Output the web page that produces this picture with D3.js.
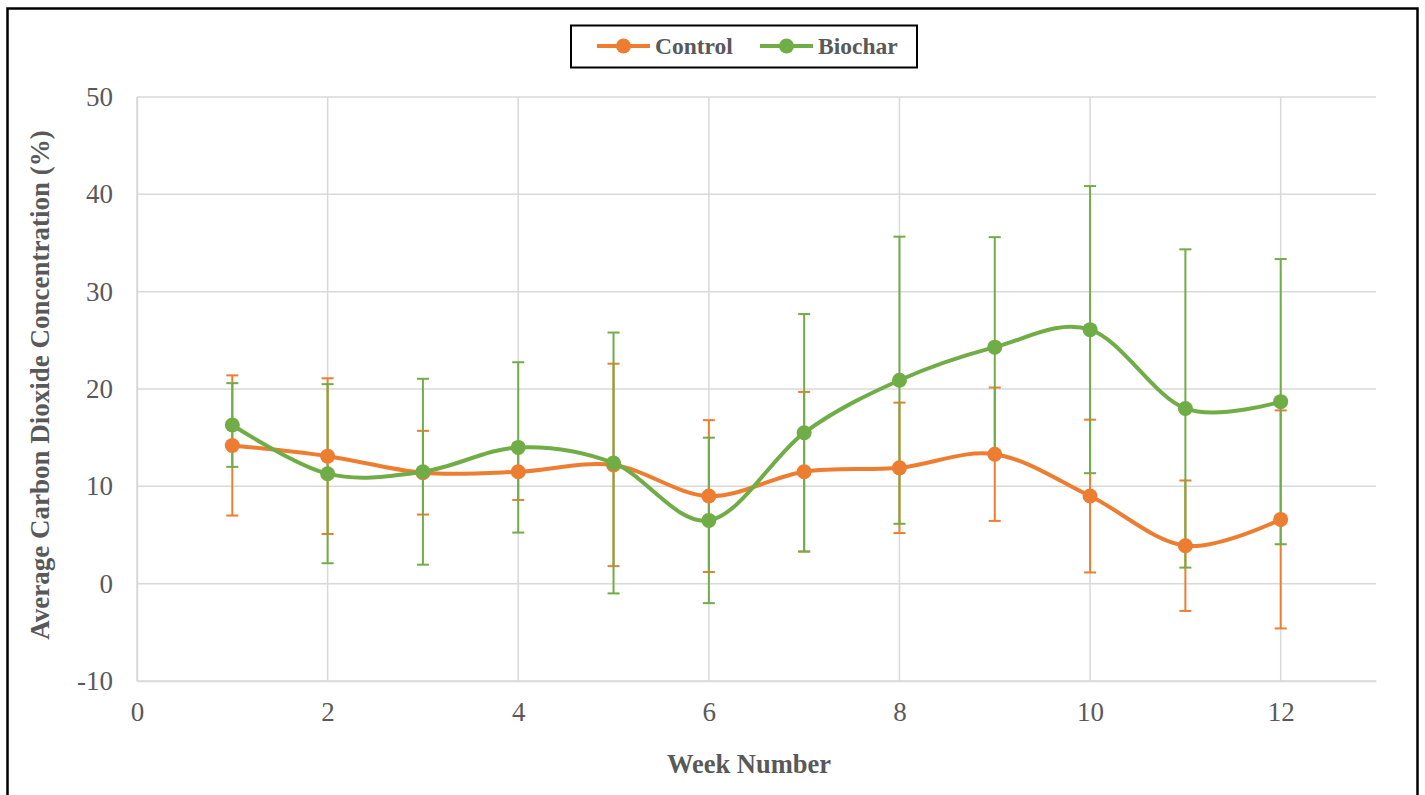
<!DOCTYPE html>
<html>
<head>
<meta charset="utf-8">
<script src="https://cdn.jsdelivr.net/npm/d3@7"></script>
<style>
  body { margin: 0; background: #fff; }
  svg { display: block; font-family: "Liberation Serif", "Times New Roman", serif; }
</style>
</head>
<body>
<div id="chart"></div>
<script>
// data
const weeks = [1, 2, 3, 4, 5, 6, 7, 8, 9, 10, 11, 12];
const controlMean = [14.2, 13.1, 11.4, 11.5, 12.2, 9.0, 11.5, 11.9, 13.3, 9.0, 3.9, 6.6];
const controlErr = [7.2, 8.0, 4.3, 2.9, 10.4, 7.8, 8.2, 6.7, 6.85, 7.85, 6.7, 11.2];
const biocharMean = [16.3, 11.3, 11.5, 14.0, 12.4, 6.5, 15.5, 20.9, 24.3, 26.1, 18.0, 18.7];
const biocharErr = [4.3, 9.2, 9.55, 8.75, 13.4, 8.5, 12.2, 14.75, 11.3, 14.75, 16.35, 14.65];
const xTicks = [0, 2, 4, 6, 8, 10, 12];
const yTicks = [-10, 0, 10, 20, 30, 40, 50];

const series = [
  { name: 'Control', color: '#ED7D31', mean: controlMean, err: controlErr },
  { name: 'Biochar', color: '#70AD47', mean: biocharMean, err: biocharErr }
];

const width = 1425, height = 795;
const margin = { top: 97, right: 49, bottom: 114, left: 137 };
const textColor = '#595959';

const svg = d3.select('#chart')
  .append('svg')
  .attr('width', width)
  .attr('height', height);

// outer chart border
svg.append('rect')
  .attr('x', 7.5).attr('y', 8.5)
  .attr('width', 1410).attr('height', 800)
  .attr('fill', 'none')
  .attr('stroke', '#000')
  .attr('stroke-width', 2.5);

const xScale = d3.scaleLinear().domain([0, 13]).range([margin.left, width - margin.right]);
const yScale = d3.scaleLinear().domain([-10, 50]).range([height - margin.bottom, margin.top]);

// gridlines
svg.append('g')
  .selectAll('line.h')
  .data(yTicks)
  .enter()
  .append('line')
  .attr('x1', xScale(0)).attr('x2', xScale(13))
  .attr('y1', d => yScale(d)).attr('y2', d => yScale(d))
  .attr('stroke', '#D9D9D9')
  .attr('stroke-width', 1.5);

svg.append('g')
  .selectAll('line.v')
  .data(xTicks)
  .enter()
  .append('line')
  .attr('x1', d => xScale(d)).attr('x2', d => xScale(d))
  .attr('y1', yScale(-10)).attr('y2', yScale(50))
  .attr('stroke', '#D9D9D9')
  .attr('stroke-width', 1.5);

// axes (labels only, lines styled like gridlines)
const xAxis = d3.axisBottom(xScale).tickValues(xTicks).tickSize(0).tickPadding(21)
  .tickFormat(d => String(d));
const yAxis = d3.axisLeft(yScale).tickValues(yTicks).tickSize(0).tickPadding(24)
  .tickFormat(d => String(d));

const gx = svg.append('g')
  .attr('transform', `translate(0,${yScale(-10)})`)
  .call(xAxis);
const gy = svg.append('g')
  .attr('transform', `translate(${xScale(0)},0)`)
  .call(yAxis);

[gx, gy].forEach(g => {
  g.select('.domain').attr('stroke', '#D9D9D9').attr('stroke-width', 1.5);
  g.selectAll('text')
    .attr('fill', textColor)
    .style('font-size', '27px')
    .style('font-family', '"Liberation Serif", "Times New Roman", serif');
});

// error bars
const capW = 6;
series.forEach(s => {
  const g = svg.append('g').attr('class', 'err-' + s.name);
  const rows = weeks.map((w, i) => ({ w, lo: s.mean[i] - s.err[i], hi: s.mean[i] + s.err[i] }));
  g.selectAll('line.stem')
    .data(rows).enter().append('line')
    .attr('x1', d => xScale(d.w)).attr('x2', d => xScale(d.w))
    .attr('y1', d => yScale(d.lo)).attr('y2', d => yScale(d.hi))
    .attr('stroke', s.color).attr('stroke-width', 2);
  ['lo', 'hi'].forEach(k => {
    g.selectAll('line.cap-' + k)
      .data(rows).enter().append('line')
      .attr('x1', d => xScale(d.w) - capW).attr('x2', d => xScale(d.w) + capW)
      .attr('y1', d => yScale(d[k])).attr('y2', d => yScale(d[k]))
      .attr('stroke', s.color).attr('stroke-width', 2);
  });
});

// smoothed lines + markers
const line = d3.line()
  .x(d => xScale(d[0]))
  .y(d => yScale(d[1]))
  .curve(d3.curveCardinal.tension(0));

series.forEach(s => {
  const pts = weeks.map((w, i) => [w, s.mean[i]]);
  svg.append('path')
    .datum(pts)
    .attr('fill', 'none')
    .attr('stroke', s.color)
    .attr('stroke-width', 4)
    .attr('d', line);
  svg.selectAll('circle.m-' + s.name)
    .data(pts).enter().append('circle')
    .attr('cx', d => xScale(d[0]))
    .attr('cy', d => yScale(d[1]))
    .attr('r', 7.5)
    .attr('fill', s.color);
});

// axis titles
svg.append('text')
  .attr('x', 749)
  .attr('y', 773)
  .attr('text-anchor', 'middle')
  .attr('fill', textColor)
  .style('font-size', '26.5px')
  .style('font-weight', 'bold')
  .text('Week Number');

svg.append('text')
  .attr('transform', `translate(49,385) rotate(-90)`)
  .attr('text-anchor', 'middle')
  .attr('fill', textColor)
  .style('font-size', '27px')
  .style('font-weight', 'bold')
  .text('Average Carbon Dioxide Concentration (%)');

// legend
const legend = svg.append('g');
legend.append('rect')
  .attr('x', 571).attr('y', 25.5)
  .attr('width', 346).attr('height', 42)
  .attr('fill', '#fff')
  .attr('stroke', '#000')
  .attr('stroke-width', 2);

const legendX = [597, 760];
series.forEach((s, i) => {
  const x0 = legendX[i];
  legend.append('line')
    .attr('x1', x0).attr('x2', x0 + 53)
    .attr('y1', 46).attr('y2', 46)
    .attr('stroke', s.color).attr('stroke-width', 4);
  legend.append('circle')
    .attr('cx', x0 + 26.5).attr('cy', 46).attr('r', 7.5)
    .attr('fill', s.color);
  legend.append('text')
    .attr('x', x0 + 58).attr('y', 54)
    .attr('fill', textColor)
    .style('font-size', '23.5px')
    .style('font-weight', 'bold')
    .text(s.name);
});
</script>
</body>
</html>
